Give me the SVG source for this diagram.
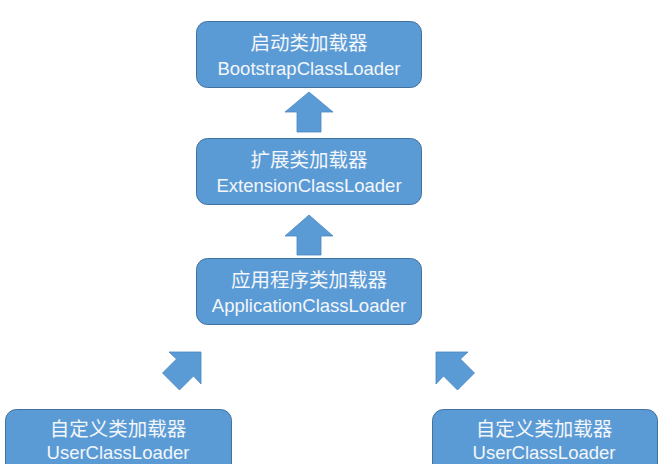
<svg xmlns="http://www.w3.org/2000/svg" width="668" height="464" viewBox="0 0 668 464">
<style>
.box{fill:#5B9BD5;stroke:#41719C;stroke-width:1}
.arrow{fill:#5B9BD5;stroke:#4A86C0;stroke-width:0.8}
.zh{font-family:"Noto Sans CJK SC","Liberation Sans",sans-serif;font-size:19.5px;fill:#F3F6FA;text-anchor:middle}
.en{font-family:"Liberation Sans","Noto Sans",sans-serif;font-size:18.5px;fill:#F3F6FA;text-anchor:middle}
</style>
<rect width="668" height="464" fill="#FFFFFF"/>
<g id="bootstrap">
<rect class="box" x="196.5" y="21.5" width="225" height="66" rx="11"/>
<text class="zh" x="309" y="50">启动类加载器</text>
<text class="en" x="309" y="75">BootstrapClassLoader</text>
</g>
<g id="extension">
<rect class="box" x="196.5" y="138.5" width="225" height="66" rx="11"/>
<text class="zh" x="309" y="167">扩展类加载器</text>
<text class="en" x="309" y="192">ExtensionClassLoader</text>
</g>
<g id="application">
<rect class="box" x="196.5" y="258.5" width="225" height="66" rx="11"/>
<text class="zh" x="309" y="287">应用程序类加载器</text>
<text class="en" x="309" y="312">ApplicationClassLoader</text>
</g>
<g id="user1">
<rect class="box" x="5.5" y="409.5" width="226" height="70" rx="11"/>
<text class="zh" x="118" y="436">自定义类加载器</text>
<text class="en" x="118" y="459">UserClassLoader</text>
</g>
<g id="user2">
<rect class="box" x="432.5" y="409.5" width="225" height="70" rx="11"/>
<text class="zh" x="544" y="436">自定义类加载器</text>
<text class="en" x="544" y="459">UserClassLoader</text>
</g>
<g id="connectors">
<polygon class="arrow" points="309,92 333,112 321,112 321,132 297,132 297,112 285,112"/>
<polygon class="arrow" points="309,215 333,236 321,236 321,255 297,255 297,236 285,236"/>
<polygon class="arrow" points="201,352 201,384 193.5,376 179.5,390 162.5,373 176.5,359 169,352"/>
<polygon class="arrow" points="436,352 468,352 460.5,359 474.5,373 457.5,390 443.5,376 436,384"/>
</g>
</svg>
